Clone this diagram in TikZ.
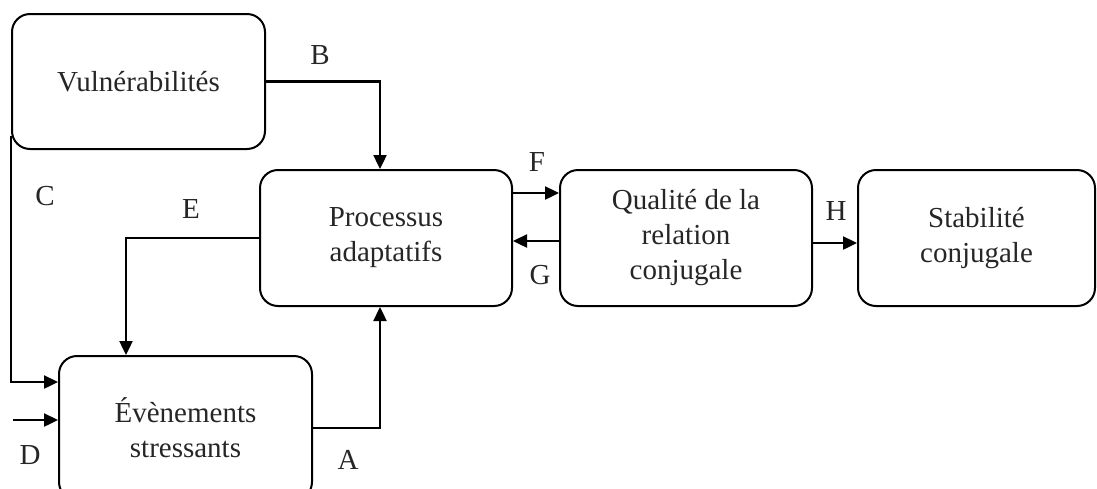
\documentclass[tikz,border=0pt]{standalone}
\usepackage{fontspec}
\setmainfont{Liberation Serif}
\usetikzlibrary{arrows.meta}
\begin{document}
\begin{tikzpicture}[x=0.5pt,y=-0.5pt,
  box/.style={draw, line width=1pt, rounded corners=9pt, align=center, inner sep=0pt,
    font=\fontsize{14.5}{17.5}\selectfont, text=black!85},
  arr/.style={line width=1.2pt, -{Triangle[length=7pt,width=6.5pt]}},
  lab/.style={font=\fontsize{14.5}{17}\selectfont, text=black!85}]
\useasboundingbox (0,0) rectangle (1097,488);
\node[box, minimum width=126.5pt, minimum height=67.5pt] (vul) at (138.5,81.5) {Vulnérabilités};
\node[box, minimum width=126pt, minimum height=68pt] (proc) at (386,238) {Processus\\adaptatifs};
\node[box, minimum width=126pt, minimum height=68pt] (qual) at (686,238) {Qualité de la\\relation\\conjugale};
\node[box, minimum width=118.5pt, minimum height=68pt] (stab) at (976.5,238) {Stabilité\\conjugale};
\node[box, minimum width=126.5pt, minimum height=72pt] (evt) at (185.5,428) {Évènements\\stressants};
\coordinate (d0) at (13,420);
% B
\draw[arr] (vul.east) -| ([xshift=-3pt]proc.north);
% C
\draw[arr] ([yshift=7pt]vul.south west) |- ([yshift=23pt]evt.west);
% D
\draw[arr] (d0) -- (d0 -| evt.west);
% E
\draw[arr] (proc.west) -| ([xshift=-29.75pt]evt.north);
% A
\draw[arr] (evt.east) -| ([xshift=-3pt]proc.south);
% F
\draw[arr] ([yshift=22.5pt]proc.east) -- ([yshift=22.5pt]qual.west);
% G
\draw[arr] ([yshift=-1.5pt]qual.west) -- ([yshift=-1.5pt]proc.east);
% H
\draw[arr] ([yshift=-2.5pt]qual.east) -- ([yshift=-2.5pt]stab.west);
\node[lab] (lB) at (320,55) {B};
\node[lab] (lC) at (45,196) {C};
\node[lab] (lE) at (191,209) {E};
\node[lab] (lF) at (537,162) {F};
\node[lab] (lG) at (540,275) {G};
\node[lab] (lH) at (836,211) {H};
\node[lab] (lA) at (348,460) {A};
\node[lab] (lD) at (30,455) {D};
\end{tikzpicture}
\end{document}
